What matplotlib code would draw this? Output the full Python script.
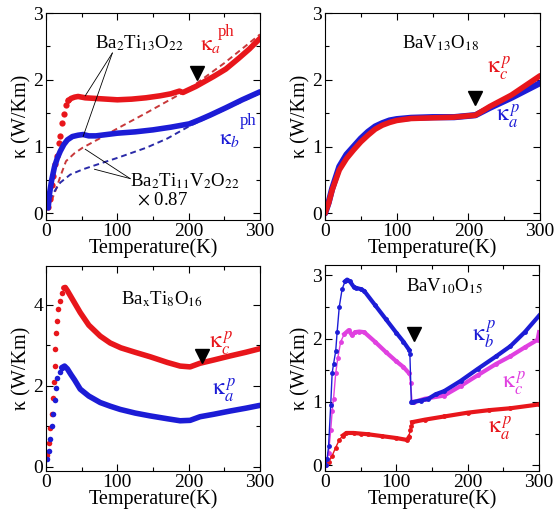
import numpy as np
import matplotlib
matplotlib.use("Agg")
import matplotlib.pyplot as plt
from matplotlib.ticker import MultipleLocator

plt.rcParams["font.family"] = ["Liberation Serif", "DejaVu Serif"]
plt.rcParams["mathtext.fontset"] = "stix"

RED = "#e8161b"
BLUE = "#1c1cd6"
MAG = "#e040e0"
RED_D = "#c8383a"
BLUE_D = "#2a2aa8"

# ---------------------------------------------------------------------------
# Panel 1: Ba2Ti13O22 (solid) and Ba2Ti11V2O22 x 0.87 (dashed)

p1_ta_rise = [3, 5, 8, 10, 13, 15, 18, 20, 23, 25, 28, 31]
p1_ka_rise = [0.1, 0.22, 0.42, 0.56, 0.74, 0.86, 1.05, 1.16, 1.35, 1.48, 1.62, 1.7]
p1_ta = [31, 35, 40, 45, 55, 70, 85, 100, 120, 140, 160, 175, 187, 192, 200,
         210, 220, 235, 252, 270, 285, 300]
p1_ka = [1.68, 1.72, 1.74, 1.75, 1.73, 1.72, 1.71, 1.70, 1.71, 1.73, 1.76, 1.79,
         1.83, 1.81, 1.85, 1.9, 1.96, 2.05, 2.16, 2.32, 2.46, 2.62]
p1_tb = [3, 5, 8, 12, 16, 20, 25, 30, 37, 45, 52, 60, 70, 85, 100, 125, 150,
         175, 201, 215, 230, 252, 275, 300]
p1_kb = [0.08, 0.3, 0.5, 0.7, 0.83, 0.93, 1.03, 1.1, 1.15, 1.17, 1.18, 1.16,
         1.16, 1.18, 1.2, 1.22, 1.25, 1.29, 1.34, 1.4, 1.47, 1.58, 1.7, 1.82]
p1_ta_v = [3, 5, 10, 14, 20, 28, 40, 51, 75, 100, 140, 182, 200, 250, 300]
p1_ka_v = [0.05, 0.1, 0.25, 0.36, 0.55, 0.78, 0.9, 0.98, 1.12, 1.27, 1.5,
           1.75, 1.86, 2.25, 2.68]
p1_tb_v = [3, 6, 10, 20, 34, 52, 80, 100, 140, 170, 200, 250, 300]
p1_kb_v = [0.05, 0.21, 0.3, 0.46, 0.58, 0.66, 0.76, 0.83, 0.98, 1.12, 1.3,
           1.55, 1.8]

# ---------------------------------------------------------------------------
# Panel 2: BaV13O18

p2_tc = [0, 5, 10, 20, 30, 40, 50, 60, 70, 80, 90, 100, 120, 150, 180, 210,
         230, 260, 300]
p2_kc = [0.0, 0.15, 0.35, 0.65, 0.82, 0.95, 1.07, 1.17, 1.26, 1.32, 1.36,
         1.39, 1.42, 1.43, 1.44, 1.47, 1.6, 1.77, 2.06]
p2_ta = [0, 5, 10, 20, 30, 40, 50, 60, 70, 80, 90, 100, 120, 150, 180, 210,
         230, 260, 300]
p2_ka = [0.0, 0.16, 0.37, 0.7, 0.88, 1.0, 1.12, 1.22, 1.3, 1.35, 1.39, 1.41,
         1.43, 1.44, 1.44, 1.47, 1.58, 1.73, 1.95]

# ---------------------------------------------------------------------------
# Panel 3: BaxTi8O16

p3_tc_rise = [2, 4, 6, 8, 10, 11, 12, 13, 14, 15, 17, 19, 22, 25]
p3_kc_rise = [0.3, 0.6, 0.95, 1.3, 1.7, 2.1, 2.5, 2.9, 3.3, 3.6, 3.9, 4.1,
              4.3, 4.42]
p3_tc = [25, 27, 30, 35, 40, 48, 60, 76, 90, 105, 125, 146, 170, 188, 202,
         216, 235, 258, 280, 300]
p3_kc = [4.42, 4.43, 4.35, 4.2, 4.05, 3.81, 3.5, 3.23, 3.06, 2.94, 2.83,
         2.72, 2.58, 2.49, 2.47, 2.56, 2.64, 2.74, 2.83, 2.92]
p3_ta_rise = [2, 4, 6, 8, 10, 12, 14, 16, 19, 22]
p3_ka_rise = [0.2, 0.4, 0.7, 1.0, 1.3, 1.65, 1.95, 2.2, 2.35, 2.45]
p3_ta = [22, 26, 30, 35, 40, 48, 60, 76, 90, 104, 125, 146, 170, 188, 202,
         216, 235, 258, 280, 300]
p3_ka = [2.45, 2.49, 2.42, 2.28, 2.15, 1.92, 1.75, 1.59, 1.5, 1.42, 1.33,
         1.26, 1.19, 1.14, 1.15, 1.24, 1.3, 1.38, 1.45, 1.52]

# ---------------------------------------------------------------------------
# Panel 4: BaV10O15

p4_tb = [1, 3, 5, 8, 10, 12, 15, 17, 20, 24, 28, 31, 35, 40, 43, 50, 55, 70,
         85, 100, 110, 118, 119, 121, 124, 134, 145, 155, 167, 190, 214, 240,
         260, 280, 300]
p4_kb = [0.0, 0.1, 0.3, 0.95, 1.45, 1.6, 1.8, 2.1, 2.5, 2.78, 2.9, 2.93, 2.9,
         2.82, 2.8, 2.78, 2.75, 2.53, 2.31, 2.09, 1.95, 1.82, 1.75, 1.0, 1.0,
         1.02, 1.05, 1.12, 1.17, 1.33, 1.52, 1.72, 1.88, 2.1, 2.36]
p4_tc = [1, 3, 5, 8, 10, 12, 15, 18, 22, 27, 33, 38, 42, 48, 55, 70, 85, 100,
         110, 118, 120, 122, 125, 140, 167, 190, 214, 240, 260, 280, 298, 300]
p4_kc = [0.0, 0.1, 0.2, 0.55, 0.85, 1.05, 1.45, 1.7, 1.95, 2.07, 2.13, 2.05,
         2.1, 2.11, 2.1, 1.95, 1.79, 1.64, 1.55, 1.45, 1.3, 1.0, 1.0, 1.05,
         1.1, 1.25, 1.42, 1.6, 1.72, 1.86, 1.98, 2.1]
p4_ta = [1, 5, 10, 15, 20, 25, 30, 40, 50, 60, 80, 100, 115, 118, 119, 121,
         122, 140, 167, 200, 230, 260, 300]
p4_ka = [0.02, 0.05, 0.15, 0.28, 0.4, 0.47, 0.51, 0.51, 0.5, 0.49, 0.46, 0.43,
         0.4, 0.45, 0.55, 0.62, 0.68, 0.72, 0.77, 0.83, 0.87, 0.9, 0.96]

# triangle markers (T, kappa)
arrows = [(211, 2.1), (209, 1.72), (218, 2.74), (125, 2.07)]

# ---------------------------------------------------------------------------

W, H = 554, 513
fig = plt.figure(figsize=(W / 100, H / 100), dpi=100)
FS = 14


def make_ax(x0, y_top, x1, y_bot, ylim, ymaj, ymin):
    ax = fig.add_axes([x0 / W, 1 - y_bot / H, (x1 - x0) / W, (y_bot - y_top) / H])
    ax.set_xlim(0, 300)
    ax.set_ylim(*ylim)
    ax.xaxis.set_major_locator(MultipleLocator(100))
    ax.xaxis.set_minor_locator(MultipleLocator(50))
    ax.yaxis.set_major_locator(MultipleLocator(ymaj))
    ax.yaxis.set_minor_locator(MultipleLocator(ymin))
    ax.tick_params(which="both", direction="in", top=True, right=True,
                   labelsize=FS, pad=2, width=0.8)
    ax.tick_params(which="major", length=5)
    ax.tick_params(which="minor", length=3)
    for s in ax.spines.values():
        s.set_linewidth(0.8)
    ax.set_xlabel("Temperature(K)", fontsize=14.5, labelpad=-1)
    ax.set_ylabel("κ (W/Km)", fontsize=14.5, labelpad=1)
    return ax


ax1 = make_ax(46, 13, 260, 220, (-0.1, 3.0), 1, 0.5)
ax2 = make_ax(325, 13, 540, 220, (-0.1, 3.0), 1, 0.5)
ax3 = make_ax(46, 266, 260, 471, (-0.1, 4.96), 2, 1)
ax4 = make_ax(325, 265, 539, 471, (-0.09, 3.16), 1, 0.5)

# panel 1
ax1.plot(p1_ta_v, p1_ka_v, "--", color=RED_D, lw=1.4, dashes=(3, 2))
ax1.plot(p1_tb_v, p1_kb_v, "--", color=BLUE_D, lw=1.4, dashes=(3, 2))
ax1.plot(p1_ta_rise, p1_ka_rise, "o", color=RED, ms=4.5, mew=0)
ax1.plot(p1_ta, p1_ka, "-", color=RED, lw=4, solid_capstyle="round")
ax1.plot(p1_tb, p1_kb, "-", color=BLUE, lw=4, solid_capstyle="round")

ax1.text(130, 2.55, r"Ba$_2$Ti$_{13}$O$_{22}$", fontsize=13.5, ha="center", va="center")
ax1.plot([93, 55], [2.4, 1.76], color="k", lw=0.6)
ax1.plot([93, 52], [2.4, 1.15], color="k", lw=0.6)
ax1.text(195, 0.48, r"Ba$_2$Ti$_{11}$V$_2$O$_{22}$", fontsize=13.5, ha="center", va="center")
ax1.text(164, 0.2, r"$\times$ 0.87", fontsize=13.5, ha="center", va="center")
ax1.plot([118, 55], [0.52, 0.96], color="k", lw=0.6)
ax1.plot([118, 68], [0.52, 0.66], color="k", lw=0.6)
ax1.text(230, 2.52, r"$\mathrm{\kappa}_{a}$", color=RED, fontsize=16, ha="center", va="center")
ax1.text(253, 2.72, "ph", color=RED, fontsize=12, ha="center", va="center")
ax1.text(257, 1.1, r"$\mathrm{\kappa}_{b}$", color=BLUE, fontsize=16, ha="center", va="center")
ax1.text(283, 1.38, "ph", color=BLUE, fontsize=12, ha="center", va="center")

# panel 2
ax2.plot(p2_ta, p2_ka, "-", color=BLUE, lw=4.5, solid_capstyle="round")
ax2.plot(p2_tc, p2_kc, "-", color=RED, lw=4, solid_capstyle="round")
ax2.text(161, 2.55, r"BaV$_{13}$O$_{18}$", fontsize=13.5, ha="center", va="center")
ax2.text(243, 2.17, r"$\mathrm{\kappa}_{c}^{\,p}$", color=RED, fontsize=17, ha="center", va="center")
ax2.text(256, 1.45, r"$\mathrm{\kappa}_{a}^{\,p}$", color=BLUE, fontsize=17, ha="center", va="center")

# panel 3
ax3.plot(p3_tc_rise, p3_kc_rise, "o", color=RED, ms=4, mew=0)
ax3.plot(p3_ta_rise, p3_ka_rise, "o", color=BLUE, ms=4, mew=0)
ax3.plot(p3_tc, p3_kc, "-", color=RED, lw=4, solid_capstyle="round")
ax3.plot(p3_ta, p3_ka, "-", color=BLUE, lw=4, solid_capstyle="round")
ax3.text(162, 4.15, r"Ba$_{\rm x}$Ti$_8$O$_{16}$", fontsize=13.5, ha="center", va="center")
ax3.text(246, 3.05, r"$\mathrm{\kappa}_{c}^{\,p}$", color=RED, fontsize=17, ha="center", va="center")
ax3.text(250, 1.9, r"$\mathrm{\kappa}_{a}^{\,p}$", color=BLUE, fontsize=17, ha="center", va="center")

# panel 4
for t, k, c in [(p4_ta, p4_ka, RED), (p4_tc, p4_kc, MAG), (p4_tb, p4_kb, BLUE)]:
    ax4.plot(t, k, "-", color=c, lw=1.0)
    ax4.plot(t, k, "o", color=c, ms=3.5, mew=0)
    dense = [i for i, v in enumerate(t) if v >= 25]
    ax4.plot([t[i] for i in dense if t[i] < 119], [k[i] for i in dense if t[i] < 119],
             "-", color=c, lw=3)
    ax4.plot([t[i] for i in dense if t[i] >= 122], [k[i] for i in dense if t[i] >= 122],
             "-", color=c, lw=3)
ax4.text(167, 2.83, r"BaV$_{10}$O$_{15}$", fontsize=13.5, ha="center", va="center")
ax4.text(223, 2.07, r"$\mathrm{\kappa}_{b}^{\,p}$", color=BLUE, fontsize=17, ha="center", va="center")
ax4.text(265, 1.3, r"$\mathrm{\kappa}_{c}^{\,p}$", color=MAG, fontsize=17, ha="center", va="center")
ax4.text(246, 0.58, r"$\mathrm{\kappa}_{a}^{\,p}$", color=RED, fontsize=17, ha="center", va="center")

for ax, (t, k) in zip([ax1, ax2, ax3, ax4], arrows):
    ax.plot(t, k, "v", color="k", ms=9.5)

fig.savefig("out.png", dpi=100)
